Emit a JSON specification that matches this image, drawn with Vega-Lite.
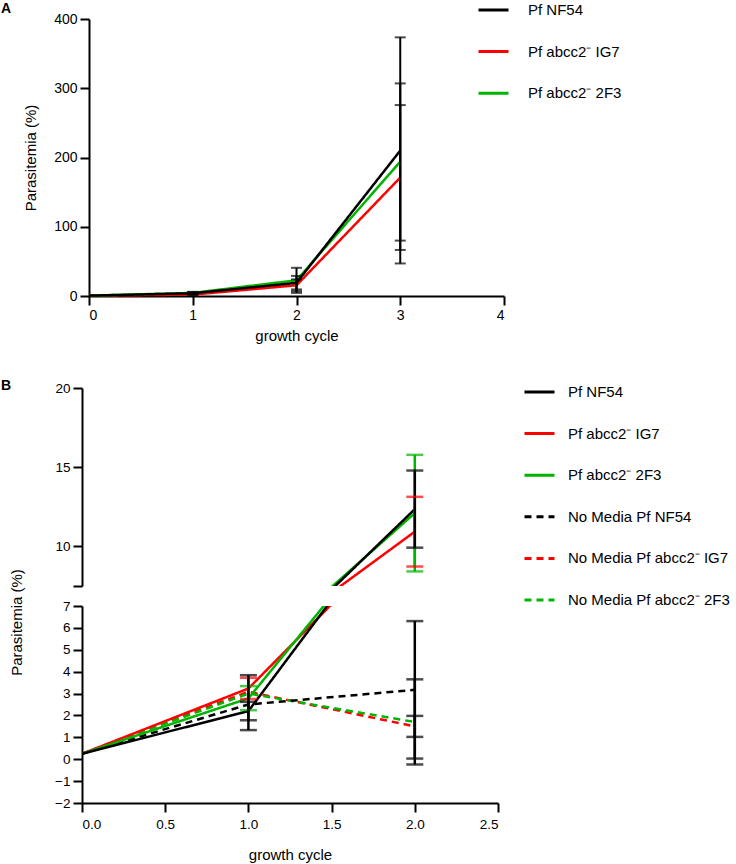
{
  "$schema": "https://vega.github.io/schema/vega-lite/v6.json",
  "padding": {"left": 0, "top": 0, "right": 0, "bottom": 0},
  "background": "white",
  "config": {
    "font": "Liberation Sans",
    "view": {"stroke": null},
    "axis": {"grid": false, "domainColor": "black", "domainWidth": 2, "tickColor": "black", "tickWidth": 2, "tickSize": 9, "labelColor": "black", "labelFontSize": 14, "labelPadding": 3, "labelOverlap": false, "titleColor": "black", "titleFontSize": 15, "titleFontWeight": "normal", "labelFont": "Liberation Sans", "titleFont": "Liberation Sans"},
    "legend": {"labelFontSize": 15, "labelColor": "black", "labelFont": "Liberation Sans", "symbolType": "stroke", "symbolSize": 900, "symbolStrokeWidth": 3, "labelOffset": 16, "clipHeight": 20, "rowPadding": 21.6, "labelLimit": 400},
    "title": {"fontSize": 14, "fontWeight": "bold", "anchor": "start", "color": "black", "font": "Liberation Sans"}
  },
  "datasets": {
    "a": [
      {"s": "Pf abcc2⁻ IG7", "x": 0, "y": 0.5, "lo": null, "hi": null},
      {"s": "Pf abcc2⁻ IG7", "x": 1, "y": 2, "lo": 1, "hi": 3.5},
      {"s": "Pf abcc2⁻ IG7", "x": 2, "y": 15.5, "lo": 7, "hi": 24},
      {"s": "Pf abcc2⁻ IG7", "x": 3, "y": 171, "lo": 66.5, "hi": 275.7},
      {"s": "Pf abcc2⁻ 2F3", "x": 0, "y": 0.5, "lo": null, "hi": null},
      {"s": "Pf abcc2⁻ 2F3", "x": 1, "y": 4.5, "lo": 3, "hi": 6},
      {"s": "Pf abcc2⁻ 2F3", "x": 2, "y": 22.7, "lo": 4.5, "hi": 40.7},
      {"s": "Pf abcc2⁻ 2F3", "x": 3, "y": 194, "lo": 80, "hi": 307},
      {"s": "Pf NF54", "x": 0, "y": 0.5, "lo": null, "hi": null},
      {"s": "Pf NF54", "x": 1, "y": 4, "lo": 2.4, "hi": 5.5},
      {"s": "Pf NF54", "x": 2, "y": 19, "lo": 9.5, "hi": 29},
      {"s": "Pf NF54", "x": 3, "y": 210, "lo": 47, "hi": 373.5}
    ],
    "b": [
      {"s": "No Media Pf abcc2⁻ IG7", "x": 0, "y": 0.25, "lo": null, "hi": null},
      {"s": "No Media Pf abcc2⁻ IG7", "x": 1, "y": 3.08, "lo": null, "hi": null},
      {"s": "No Media Pf abcc2⁻ IG7", "x": 2, "y": 1.5, "lo": 1.02, "hi": 1.98},
      {"s": "No Media Pf abcc2⁻ 2F3", "x": 0, "y": 0.25, "lo": null, "hi": null},
      {"s": "No Media Pf abcc2⁻ 2F3", "x": 1, "y": 3.0, "lo": null, "hi": null},
      {"s": "No Media Pf abcc2⁻ 2F3", "x": 2, "y": 1.7, "lo": -0.24, "hi": 3.65},
      {"s": "No Media Pf NF54", "x": 0, "y": 0.25, "lo": null, "hi": null},
      {"s": "No Media Pf NF54", "x": 1, "y": 2.5, "lo": 1.33, "hi": 3.84},
      {"s": "No Media Pf NF54", "x": 2, "y": 3.17, "lo": 0.03, "hi": 6.31},
      {"s": "Pf abcc2⁻ IG7", "x": 0, "y": 0.25, "lo": null, "hi": null},
      {"s": "Pf abcc2⁻ IG7", "x": 1, "y": 3.23, "lo": 2.75, "hi": 3.72},
      {"s": "Pf abcc2⁻ IG7", "x": 2, "y": 10.93, "lo": 8.73, "hi": 13.13},
      {"s": "Pf abcc2⁻ 2F3", "x": 0, "y": 0.25, "lo": null, "hi": null},
      {"s": "Pf abcc2⁻ 2F3", "x": 1, "y": 2.78, "lo": 2.24, "hi": 3.34},
      {"s": "Pf abcc2⁻ 2F3", "x": 2, "y": 12.1, "lo": 8.42, "hi": 15.78},
      {"s": "Pf NF54", "x": 0, "y": 0.25, "lo": null, "hi": null},
      {"s": "Pf NF54", "x": 1, "y": 2.2, "lo": 1.78, "hi": 2.62},
      {"s": "Pf NF54", "x": 2, "y": 12.35, "lo": 9.92, "hi": 14.79}
    ]
  },
  "align": "none",
  "spacing": 36,
  "resolve": {"scale": {"color": "independent", "strokeDash": "independent"}, "legend": {"color": "independent", "strokeDash": "independent"}},
  "vconcat": [
    {
      "spacing": 0,
      "resolve": {"legend": {"color": "independent", "strokeDash": "independent"}},
      "hconcat": [
        {"width": 1, "height": 1, "data": {"values": []}, "mark": "point"},
        {
          "title": {"text": "A", "frame": "group", "dx": -88, "dy": 20},
          "width": 415,
          "height": 277,
          "data": {"name": "a"},
          "encoding": {
            "x": {"field": "x", "type": "quantitative", "scale": {"domain": [0, 4]}, "axis": {"values": [0, 1, 2, 3, 4], "title": "growth cycle", "titlePadding": 6}}
          },
          "layer": [
            {
              "mark": {"type": "line", "strokeWidth": 2.5},
              "encoding": {
                "y": {"field": "y", "type": "quantitative", "scale": {"domain": [0, 400]}, "axis": {"values": [0, 100, 200, 300, 400], "title": "Parasitemia (%)", "titlePadding": 15}},
                "color": {"field": "s", "type": "nominal", "scale": {"domain": ["Pf NF54", "Pf abcc2⁻ IG7", "Pf abcc2⁻ 2F3"], "range": ["#000000", "#ff0000", "#00b400"]}, "legend": {"title": null, "orient": "none", "legendX": 388, "legendY": -19, "labelOffset": 18}},
                "strokeDash": {"field": "s", "type": "nominal", "scale": {"domain": ["Pf NF54", "Pf abcc2⁻ IG7", "Pf abcc2⁻ 2F3"], "range": [[1, 0], [1, 0], [1, 0]]}, "legend": {"title": null, "orient": "none", "legendX": 388, "legendY": -19, "labelOffset": 18}}
              }
            },
            {
              "mark": {"type": "rule", "color": "black", "strokeWidth": 2},
              "encoding": {
                "y": {"field": "lo", "type": "quantitative", "scale": {"domain": [0, 400]}, "axis": {"values": [0, 100, 200, 300, 400], "title": "Parasitemia (%)", "titlePadding": 15}},
                "y2": {"field": "hi"}
              }
            },
            {
              "mark": {"type": "tick", "orient": "horizontal", "size": 11, "thickness": 2, "color": "black"},
              "encoding": {"y": {"field": "lo", "type": "quantitative", "scale": {"domain": [0, 400]}, "axis": {"values": [0, 100, 200, 300, 400], "title": "Parasitemia (%)", "titlePadding": 15}}}
            },
            {
              "mark": {"type": "tick", "orient": "horizontal", "size": 11, "thickness": 2, "color": "black"},
              "encoding": {"y": {"field": "hi", "type": "quantitative", "scale": {"domain": [0, 400]}, "axis": {"values": [0, 100, 200, 300, 400], "title": "Parasitemia (%)", "titlePadding": 15}}}
            }
          ]
        }
      ]
    },
    {
      "spacing": 0,
      "resolve": {"legend": {"color": "independent", "strokeDash": "independent"}},
      "hconcat": [
        {"width": 1, "height": 1, "data": {"values": []}, "mark": "point"},
        {
          "title": {"text": "B", "frame": "group", "dx": -81, "dy": 16},
          "spacing": 20,
          "bounds": "flush",
          "resolve": {"legend": {"color": "independent", "strokeDash": "independent"}},
          "vconcat": [
            {
              "width": 416,
              "height": 198,
              "data": {"name": "b"},
              "encoding": {
                "x": {"field": "x", "type": "quantitative", "scale": {"domain": [0, 2.5]}, "axis": null}
              },
              "layer": [
                {
                  "mark": {"type": "line", "strokeWidth": 2.5, "clip": true},
                  "encoding": {
                    "y": {"field": "y", "type": "quantitative", "scale": {"domain": [7.5, 20]}, "axis": {"values": [7.5, 10, 15, 20], "labelExpr": "datum.value == 7.5 ? '' : datum.label", "title": null, "labelFontSize": 13.5}},
                    "color": {"field": "s", "type": "nominal", "scale": {"domain": ["Pf NF54", "Pf abcc2⁻ IG7", "Pf abcc2⁻ 2F3", "No Media Pf NF54", "No Media Pf abcc2⁻ IG7", "No Media Pf abcc2⁻ 2F3"], "range": ["#000000", "#ff0000", "#00b400", "#000000", "#ff0000", "#00b400"]}, "legend": {"title": null, "orient": "none", "legendX": 441, "legendY": -6, "labelOffset": 12}},
                    "strokeDash": {"field": "s", "type": "nominal", "scale": {"domain": ["Pf NF54", "Pf abcc2⁻ IG7", "Pf abcc2⁻ 2F3", "No Media Pf NF54", "No Media Pf abcc2⁻ IG7", "No Media Pf abcc2⁻ 2F3"], "range": [[1, 0], [1, 0], [1, 0], [7, 5], [7, 5], [7, 5]]}, "legend": {"title": null, "orient": "none", "legendX": 441, "legendY": -6, "labelOffset": 12}}
                  }
                },
                {
                  "transform": [{"filter": "indexof(datum.s, 'No Media') < 0"}],
                  "layer": [
                    {"mark": {"type": "rule", "strokeWidth": 2.5, "clip": true}, "encoding": {"y": {"field": "lo", "type": "quantitative", "scale": {"domain": [7.5, 20]}, "axis": {"values": [7.5, 10, 15, 20], "labelExpr": "datum.value == 7.5 ? '' : datum.label", "title": null, "labelFontSize": 13.5}}, "y2": {"field": "hi"}, "color": {"field": "s", "type": "nominal", "legend": null}}},
                    {"mark": {"type": "tick", "orient": "horizontal", "size": 17, "thickness": 2.5, "clip": true}, "encoding": {"y": {"field": "lo", "type": "quantitative", "scale": {"domain": [7.5, 20]}, "axis": {"values": [7.5, 10, 15, 20], "labelExpr": "datum.value == 7.5 ? '' : datum.label", "title": null, "labelFontSize": 13.5}}, "color": {"field": "s", "type": "nominal", "legend": null}}},
                    {"mark": {"type": "tick", "orient": "horizontal", "size": 17, "thickness": 2.5, "clip": true}, "encoding": {"y": {"field": "hi", "type": "quantitative", "scale": {"domain": [7.5, 20]}, "axis": {"values": [7.5, 10, 15, 20], "labelExpr": "datum.value == 7.5 ? '' : datum.label", "title": null, "labelFontSize": 13.5}}, "color": {"field": "s", "type": "nominal", "legend": null}}}
                  ]
                }
              ]
            },
            {
              "width": 416,
              "height": 197,
              "data": {"name": "b"},
              "encoding": {
                "x": {"field": "x", "type": "quantitative", "scale": {"domain": [0, 2.5]}, "axis": {"values": [0, 0.5, 1, 1.5, 2, 2.5], "format": ".1f", "title": "growth cycle", "titlePadding": 17, "labelFontSize": 13.5, "labelPadding": 5}}
              },
              "layer": [
                {
                  "mark": {"type": "line", "strokeWidth": 2.5, "clip": true},
                  "encoding": {
                    "y": {"field": "y", "type": "quantitative", "scale": {"domain": [-2, 7]}, "axis": {"values": [-2, -1, 0, 1, 2, 3, 4, 5, 6, 7], "title": "Parasitemia (%)", "titleY": 16, "titlePadding": 30, "labelFontSize": 13.5}},
                    "color": {"field": "s", "type": "nominal", "legend": null},
                    "strokeDash": {"field": "s", "type": "nominal", "legend": null}
                  }
                },
                {
                  "transform": [{"filter": "indexof(datum.s, 'No Media') < 0"}],
                  "layer": [
                    {"mark": {"type": "rule", "strokeWidth": 2.5, "clip": true}, "encoding": {"y": {"field": "lo", "type": "quantitative", "scale": {"domain": [-2, 7]}, "axis": {"values": [-2, -1, 0, 1, 2, 3, 4, 5, 6, 7], "title": "Parasitemia (%)", "titleY": 16, "titlePadding": 30, "labelFontSize": 13.5}}, "y2": {"field": "hi"}, "color": {"field": "s", "type": "nominal", "legend": null}}},
                    {"mark": {"type": "tick", "orient": "horizontal", "size": 17, "thickness": 2.5, "clip": true}, "encoding": {"y": {"field": "lo", "type": "quantitative", "scale": {"domain": [-2, 7]}, "axis": {"values": [-2, -1, 0, 1, 2, 3, 4, 5, 6, 7], "title": "Parasitemia (%)", "titleY": 16, "titlePadding": 30, "labelFontSize": 13.5}}, "color": {"field": "s", "type": "nominal", "legend": null}}},
                    {"mark": {"type": "tick", "orient": "horizontal", "size": 17, "thickness": 2.5, "clip": true}, "encoding": {"y": {"field": "hi", "type": "quantitative", "scale": {"domain": [-2, 7]}, "axis": {"values": [-2, -1, 0, 1, 2, 3, 4, 5, 6, 7], "title": "Parasitemia (%)", "titleY": 16, "titlePadding": 30, "labelFontSize": 13.5}}, "color": {"field": "s", "type": "nominal", "legend": null}}}
                  ]
                },
                {
                  "transform": [{"filter": "indexof(datum.s, 'No Media') >= 0"}],
                  "layer": [
                    {"mark": {"type": "rule", "strokeWidth": 2.5, "color": "black", "clip": true}, "encoding": {"y": {"field": "lo", "type": "quantitative", "scale": {"domain": [-2, 7]}, "axis": {"values": [-2, -1, 0, 1, 2, 3, 4, 5, 6, 7], "title": "Parasitemia (%)", "titleY": 16, "titlePadding": 30, "labelFontSize": 13.5}}, "y2": {"field": "hi"}}},
                    {"mark": {"type": "tick", "orient": "horizontal", "size": 17, "thickness": 2.5, "color": "black", "clip": true}, "encoding": {"y": {"field": "lo", "type": "quantitative", "scale": {"domain": [-2, 7]}, "axis": {"values": [-2, -1, 0, 1, 2, 3, 4, 5, 6, 7], "title": "Parasitemia (%)", "titleY": 16, "titlePadding": 30, "labelFontSize": 13.5}}}},
                    {"mark": {"type": "tick", "orient": "horizontal", "size": 17, "thickness": 2.5, "color": "black", "clip": true}, "encoding": {"y": {"field": "hi", "type": "quantitative", "scale": {"domain": [-2, 7]}, "axis": {"values": [-2, -1, 0, 1, 2, 3, 4, 5, 6, 7], "title": "Parasitemia (%)", "titleY": 16, "titlePadding": 30, "labelFontSize": 13.5}}}}
                  ]
                }
              ]
            }
          ]
        }
      ]
    }
  ]
}
